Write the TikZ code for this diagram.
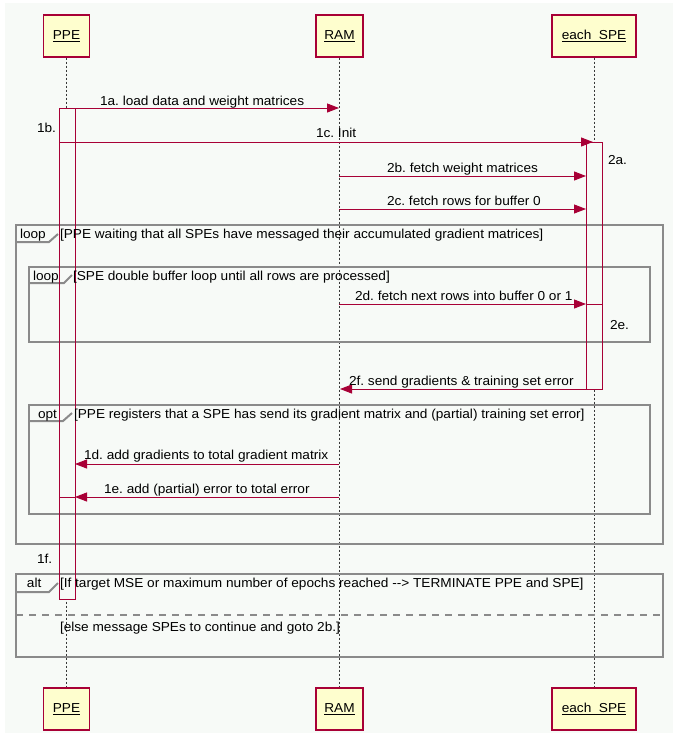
\documentclass[tikz,border=0pt]{standalone}
\usepackage{fontspec}
\setmainfont[FakeStretch=1.05]{Liberation Sans}
\usetikzlibrary{arrows.meta}
\definecolor{bgc}{HTML}{F7FAF7}
\definecolor{crim}{HTML}{A80036}
\definecolor{boxfill}{HTML}{FEFECE}
\definecolor{framec}{HTML}{8A8A8A}
\definecolor{lifec}{HTML}{383838}
\tikzset{
  lbl/.style={inner sep=0pt, outer sep=0pt, font=\fontsize{13}{15}\selectfont, text=black},
  participant/.style={draw=crim, fill=boxfill, line width=1.4pt, inner sep=0pt,
     minimum height=42pt, font=\fontsize{13}{15}\selectfont, text=black},
  lifeline/.style={draw=lifec, line width=1pt, dash pattern=on 2pt off 2pt},
  actbar/.style={draw=crim, line width=1pt},
  barfill/.style={fill=bgc, draw=none},
  msg/.style={draw=crim, line width=1pt, -{Triangle[length=12pt,width=9pt]}},
  msgline/.style={draw=crim, line width=1pt},
  frame/.style={draw=framec, line width=2pt},
  altsep/.style={draw=framec, line width=2pt, dash pattern=on 7pt off 6pt},
}
\frenchspacing
\begin{document}
\begin{tikzpicture}[x=1pt,y=-1pt]
\useasboundingbox (0,0) rectangle (678,736);
\fill[bgc] (5,3) rectangle (673,733);

% participants
\node[participant, minimum width=46pt] (ppeT) at (66.5,36) {\underline{PPE}};
\node[participant, minimum width=47pt] (ramT) at (339.5,36) {\underline{RAM}};
\node[participant, minimum width=84pt] (speT) at (594,36) {\underline{each\ \ SPE}};
\node[participant, minimum width=46pt] (ppeB) at (66.5,709) {\underline{PPE}};
\node[participant, minimum width=47pt] (ramB) at (339.5,709) {\underline{RAM}};
\node[participant, minimum width=84pt] (speB) at (594,709) {\underline{each\ \ SPE}};

% lifelines
\draw[lifeline] (ppeT.south) -- (ppeB.north);
\draw[lifeline] (ramT.south) -- (ramB.north);
\draw[lifeline] (speT.south) -- (speB.north);

% activation bar backgrounds (hide lifelines)
\fill[barfill] (59,108) rectangle (75,599);
\fill[barfill] (586,142) rectangle (602,389);

% frames
\draw[frame] (16,225) rectangle (663,544);
\draw[frame] (16,242) -- (49,242) -- (58,234);
\draw[frame] (29,267) rectangle (650,342);
\draw[frame] (29,283) -- (64,283) -- (72,275);
\draw[frame] (29,405) rectangle (650,514);
\draw[frame] (29,421) -- (63,421) -- (72,413);
\draw[frame] (16,574) rectangle (663,657);
\draw[frame] (16,592) -- (49,592) -- (58,583);
\draw[altsep] (16,615) -- (663,615);

% activation bars
\node[actbar, minimum width=16pt, minimum height=491pt, inner sep=0pt, anchor=north west] (ppeBar) at (59,108) {};
\node[actbar, minimum width=16pt, minimum height=247pt, inner sep=0pt, anchor=north west] (speBar) at (586,142) {};

% message endpoints
\coordinate (a1s) at (75,108);
\coordinate (a1e) at (339,108);
\coordinate (c1s) at (59,142);
\coordinate (c1e) at (593,142);
\coordinate (b2s) at (339,176);
\coordinate (b2e) at (586,176);
\coordinate (c2s) at (339,209);
\coordinate (c2e) at (586,209);
\coordinate (d2s) at (339,304);
\coordinate (d2e) at (586,304);
\coordinate (d2r) at (602,304);
\coordinate (f2s) at (602,389);
\coordinate (f2e) at (340,389);
\coordinate (d1s) at (339,464);
\coordinate (d1e) at (75,464);
\coordinate (e1s) at (339,497);
\coordinate (e1e) at (75,497);
\coordinate (e1l) at (59,497);

% messages
\draw[msg] (a1s) -- (a1e);
\draw[msg] (c1s) -- (c1e);
\draw[msg] (b2s) -- (b2e);
\draw[msg] (c2s) -- (c2e);
\draw[msg] (d2s) -- (d2e);
\draw[msgline] (d2e) -- (d2r);
\draw[msg] (f2s) -- (f2e);
\draw[msg] (d1s) -- (d1e);
\draw[msg] (e1s) -- (e1e);
\draw[msgline] (e1e) -- (e1l);

% labels
\node[lbl, anchor=base west] (t1a) at (100,105) {1a. load data and weight matrices};
\node[lbl, anchor=base west] (t1b) at (37,132) {1b.};
\node[lbl, anchor=base west] (t1c) at (316,137) {1c. Init};
\node[lbl, anchor=base west] (t2a) at (608,164) {2a.};
\node[lbl, anchor=base west] (t2b) at (387,172) {2b. fetch weight matrices};
\node[lbl, anchor=base west] (t2c) at (387,205) {2c. fetch rows for buffer 0};
\node[lbl, anchor=base west] (tl1) at (20,238) {loop};
\node[lbl, anchor=base west] (cl1) at (60,238) {[PPE waiting that all SPEs have messaged their accumulated gradient matrices]};
\node[lbl, anchor=base west] (tl2) at (33,280) {loop};
\node[lbl, anchor=base west] (cl2) at (73,280) {[SPE double buffer loop until all rows are processed]};
\node[lbl, anchor=base west] (t2d) at (355,300) {2d. fetch next rows into buffer 0 or 1};
\node[lbl, anchor=base west] (t2e) at (610,329) {2e.};
\node[lbl, anchor=base west] (t2f) at (349,385) {2f. send gradients \& training set error};
\node[lbl, anchor=base west] (tob) at (38,418) {opt};
\node[lbl, anchor=base west] (cob) at (74,418) {[PPE registers that a SPE has send its gradient matrix and (partial) training set error]};
\node[lbl, anchor=base west] (t1d) at (84,459) {1d. add gradients to total gradient matrix};
\node[lbl, anchor=base west] (t1e) at (104,493) {1e. add (partial) error to total error};
\node[lbl, anchor=base west] (t1f) at (37,563) {1f.};
\node[lbl, anchor=base west] (tal) at (27,587) {alt};
\node[lbl, anchor=base west] (cal) at (60,587) {[If target MSE or maximum number of epochs reached -{}-> TERMINATE PPE and SPE]};
\node[lbl, anchor=base west] (cel) at (60,631) {[else message SPEs to continue and goto 2b.]};
\end{tikzpicture}
\end{document}
